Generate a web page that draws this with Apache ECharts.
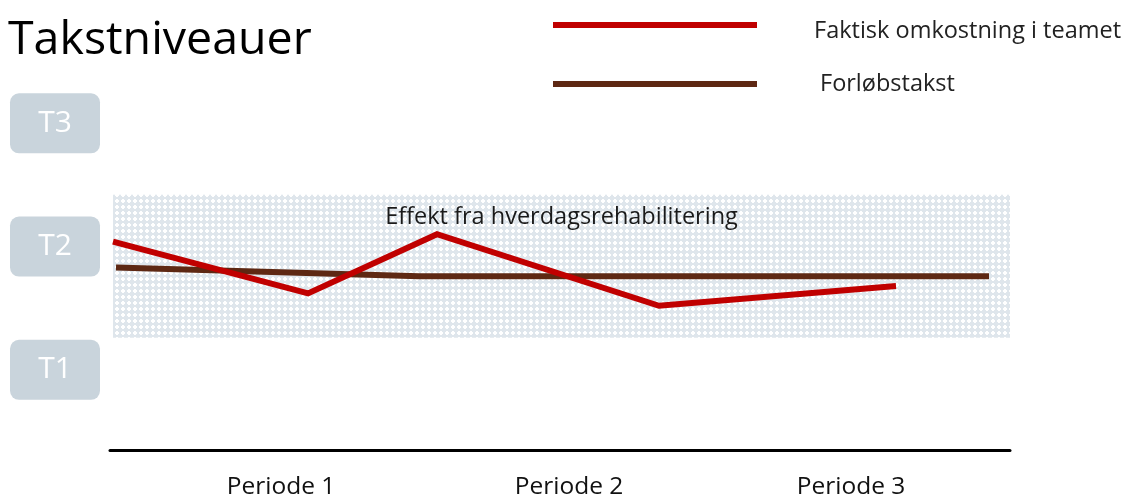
<!DOCTYPE html>
<html>
<head>
<meta charset="utf-8">
<script src="https://cdn.jsdelivr.net/npm/echarts@6/dist/echarts.min.js"></script>
<style>
  html, body { margin: 0; padding: 0; background: #fff; }
  #chart { width: 1127px; height: 497px; }
</style>
</head>
<body>
<div id="chart"></div>
<script>
// Tariff levels on the vertical scale
const titleText = 'Takstniveauer';
const levelValues = [1, 2, 3];
const levelLabels = ['T1', 'T2', 'T3'];

// Periods along the horizontal scale
const periodValues = [0.57, 1.53, 2.47];
const periodLabels = ['Periode 1', 'Periode 2', 'Periode 3'];

// Actual team cost
const actualName = 'Faktisk omkostning i teamet';
const actualX = [0.01, 0.66, 1.09, 1.83, 2.62];
const actualY = [2.04, 1.62, 2.10, 1.52, 1.68];

// Course tariff
const tariffName = 'Forløbstakst';
const tariffX = [0.02, 1.03, 2.93];
const tariffY = [1.83, 1.76, 1.76];

// Band showing the effect of everyday rehabilitation
const bandText = 'Effekt fra hverdagsrehabilitering';
const bandX = [0.01, 3.0];
const bandY = [1.26, 2.42];

const FONT = '"Open Sans", "Noto Sans", sans-serif';

function zip(xs, ys) { return xs.map((x, i) => [x, ys[i]]); }

// Small tile used as a repeating cross pattern fill
function hatchTile() {
  const c = document.createElement('canvas');
  c.width = 6; c.height = 6;
  const g = c.getContext('2d');
  g.fillStyle = '#dfe6ec';
  g.fillRect(0, 0, 6, 6);
  g.fillStyle = '#ffffff';
  g.fillRect(2, 1, 2, 4);
  g.fillRect(1, 2, 4, 2);
  return c;
}

const chart = echarts.init(document.getElementById('chart'), null, { renderer: 'canvas' });

chart.setOption({
  animation: false,
  backgroundColor: '#ffffff',
  title: {
    text: titleText,
    left: 8,
    top: 17,
    padding: 0,
    textStyle: { fontFamily: FONT, fontSize: 46.5, fontWeight: 'normal', color: '#000' }
  },
  legend: {
    data: [actualName, tariffName],
    orient: 'vertical',
    left: 553,
    top: 7,
    padding: 0,
    itemGap: 29,
    itemWidth: 204,
    itemHeight: 6,
    icon: 'rect',
    selectedMode: false,
    formatter: name => name === tariffName
      ? '{g2|}{t2|' + name + '}'
      : '{g1|}{t1|' + name + '}',
    textStyle: {
      rich: {
        g1: { width: 52, height: 28 },
        g2: { width: 58, height: 28 },
        t1: { fontFamily: FONT, fontSize: 23.5, color: '#222', lineHeight: 28, padding: [12, 0, 0, 0] },
        t2: { fontFamily: FONT, fontSize: 23.5, color: '#222', lineHeight: 28 }
      }
    }
  },
  grid: { left: 110, right: 117, top: 0, bottom: 47, outerBoundsMode: 'none', containLabel: false },
  xAxis: {
    type: 'value',
    min: 0,
    max: 3,
    splitLine: { show: false },
    axisTick: { show: false },
    axisLine: { show: true, lineStyle: { color: '#000', width: 3 } },
    axisLabel: {
      customValues: periodValues,
      margin: 25,
      fontFamily: FONT,
      fontSize: 24.5,
      color: '#111',
      formatter: v => {
        const i = periodValues.findIndex(p => Math.abs(p - v) < 1e-6);
        return i >= 0 ? periodLabels[i] : '';
      }
    }
  },
  yAxis: {
    type: 'value',
    min: 0.35,
    max: 4,
    splitLine: { show: false },
    axisTick: { show: false },
    axisLine: { show: false },
    axisLabel: {
      customValues: levelValues,
      margin: 10,
      formatter: v => {
        const i = levelValues.indexOf(v);
        return i >= 0 ? '{box|' + levelLabels[i] + '}' : '';
      },
      rich: {
        box: {
          width: 90,
          height: 60,
          lineHeight: 60,
          align: 'center',
          verticalAlign: 'middle',
          backgroundColor: '#c9d4dc',
          borderRadius: 9,
          color: '#ffffff',
          fontFamily: FONT,
          fontSize: 30
        }
      }
    }
  },
  series: [
    {
      name: 'band',
      type: 'line',
      data: [],
      z: 1,
      silent: true,
      markArea: {
        silent: true,
        itemStyle: { color: { image: hatchTile(), repeat: 'repeat' } },
        label: {
          show: true,
          position: 'insideTop',
          distance: 11,
          fontFamily: FONT,
          fontSize: 23.5,
          color: '#1a1a1a'
        },
        data: [[
          { name: bandText, coord: [bandX[0], bandY[1]] },
          { coord: [bandX[1], bandY[0]] }
        ]]
      }
    },
    {
      name: actualName,
      type: 'line',
      z: 3,
      data: zip(actualX, actualY),
      showSymbol: false,
      symbol: 'none',
      itemStyle: { color: '#c00000' },
      lineStyle: { color: '#c00000', width: 6, cap: 'butt', join: 'miter' }
    },
    {
      name: tariffName,
      type: 'line',
      z: 2,
      data: zip(tariffX, tariffY),
      showSymbol: false,
      symbol: 'none',
      itemStyle: { color: '#5e2813' },
      lineStyle: { color: '#5e2813', width: 6, cap: 'butt' }
    }
  ]
});
</script>
</body>
</html>
